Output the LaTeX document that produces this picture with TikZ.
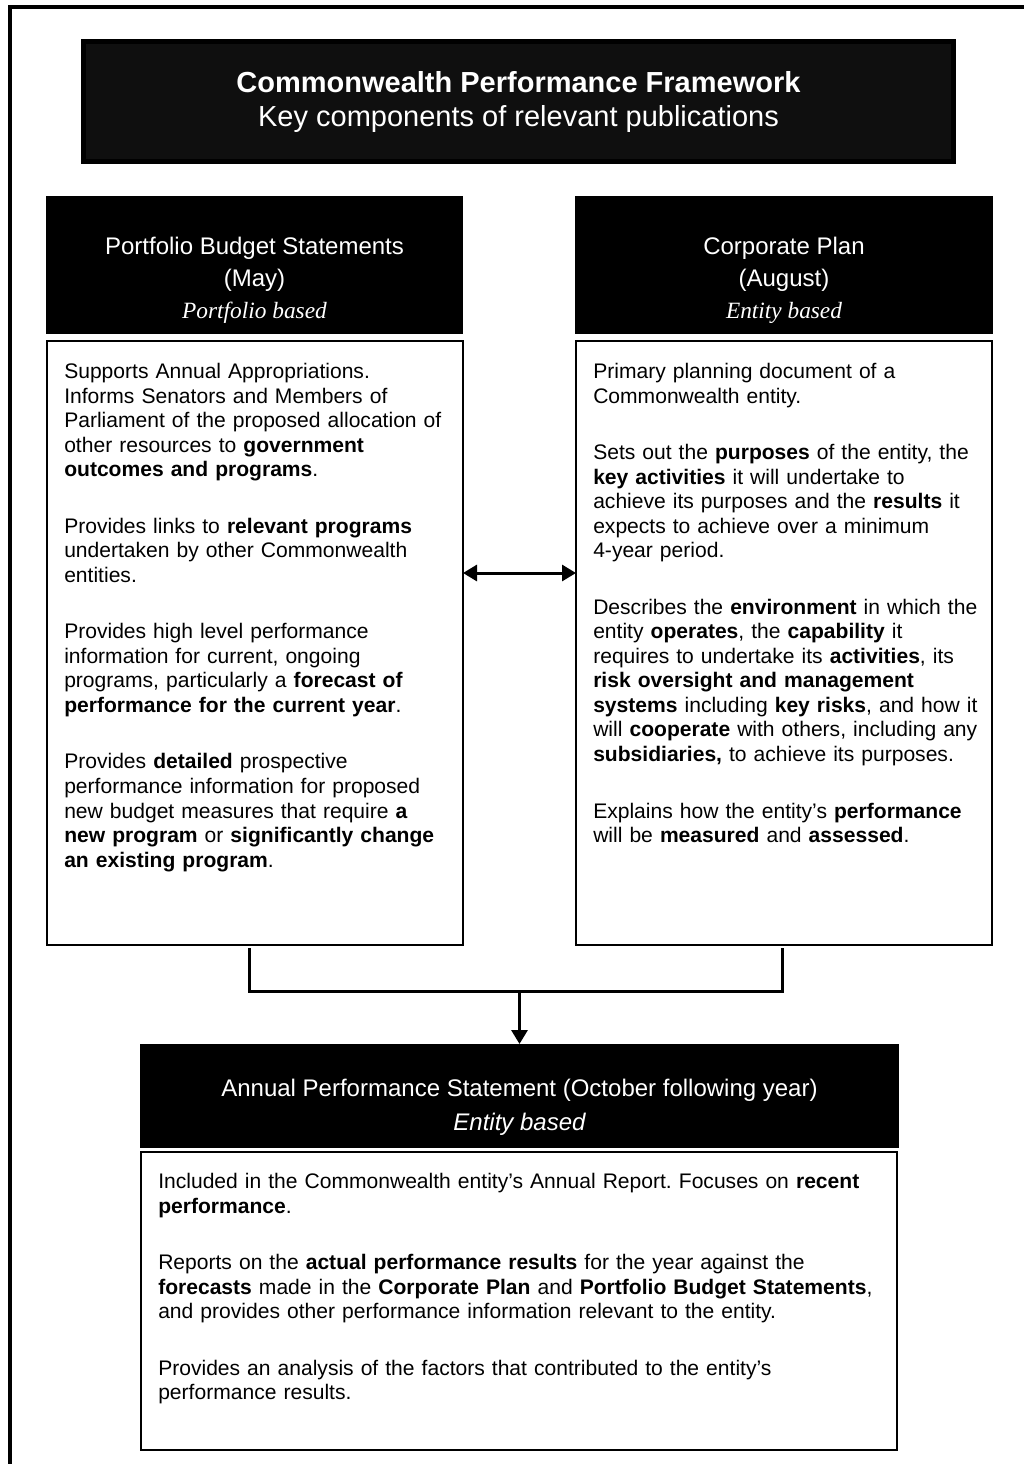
\documentclass[tikz,border=0pt]{standalone}
\usepackage{fontspec}
\setmainfont{Liberation Sans}
\newfontfamily\bookit{Liberation Serif}
\frenchspacing
\usetikzlibrary{arrows.meta,calc}
\tikzset{%
	>={Triangle[width=12pt,length=10.5pt]},
	% Specifications for style of nodes:
	banner/.style = {rectangle, draw=black, line width=3.75pt, fill=black!94,
		text=white, align=center, font=\fontsize{21.75}{25.5}\selectfont},
	head/.style = {rectangle, fill=black, inner sep=0pt, outer sep=0pt},
	headtext/.style = {text=white, align=center, inner sep=0pt, anchor=north,
		font=\fontsize{18}{24}\selectfont},
	panel/.style = {rectangle, draw=black, line width=1pt, fill=white,
		inner sep=0pt, outer sep=0pt},
	paneltext/.style = {align=left, inner sep=0pt, anchor=north west,
		font=\fontsize{15.8}{18.4}\selectfont},
	link/.style = {line width=2.25pt}
}

\begin{document}
\begin{tikzpicture}[x=0.75pt, y=-0.75pt]
	\useasboundingbox (0,0) rectangle (1024,1464);
	\draw[line width=3pt] (9.5,1464) |- (1024,7);
	% Specification of nodes (position, etc.)
	\node (cpf) [banner, minimum width=652.5pt, minimum height=90pt] at (518.5,101.5)
		{\textbf{Commonwealth Performance Framework}\\Key components of relevant publications};

	\node (pbsHead) [head, minimum width=312.75pt, minimum height=103.5pt] at (254.5,265) {};
	\node (cpHead)  [head, minimum width=313.5pt, minimum height=103.5pt] at (784,265) {};
	\node (pbsTitle) [headtext] at (254.5,237)
		{Portfolio Budget Statements\\(May)\\{\bookit\itshape\fontsize{17.5}{24}\selectfont Portfolio based}};
	\node (cpTitle) [headtext] at (784,237)
		{Corporate Plan\\(August)\\{\bookit\itshape\fontsize{17.5}{24}\selectfont Entity based}};

	\node (pbsBody) [panel, minimum width=312pt, minimum height=453pt] at (255,643) {};
	\node (cpBody)  [panel, minimum width=312pt, minimum height=453pt] at (784,643) {};
	\node (pbsText) [paneltext, text width=305pt] at (64,363) {%
		Supports Annual Appropriations.\\
		Informs Senators and Members of\\
		Parliament of the proposed allocation of\\
		other resources to \textbf{government}\\
		\textbf{outcomes and programs}.\\[24pt]
		Provides links to \textbf{relevant programs}\\
		undertaken by other Commonwealth\\
		entities.\\[24pt]
		Provides high level performance\\
		information for current, ongoing\\
		programs, particularly a \textbf{forecast of}\\
		\textbf{performance for the current year}.\\[24pt]
		Provides \textbf{detailed} prospective\\
		performance information for proposed\\
		new budget measures that require \textbf{a}\\
		\textbf{new program} or \textbf{significantly change}\\
		\textbf{an existing program}.};
	\node (cpText) [paneltext, text width=305pt] at (593,363) {%
		Primary planning document of a\\
		Commonwealth entity.\\[24pt]
		Sets out the \textbf{purposes} of the entity, the\\
		\textbf{key activities} it will undertake to\\
		achieve its purposes and the \textbf{results} it\\
		expects to achieve over a minimum\\
		4-year period.\\[24pt]
		Describes the \textbf{environment} in which the\\
		entity \textbf{operates}, the \textbf{capability} it\\
		requires to undertake its \textbf{activities}, its\\
		\textbf{risk oversight and management}\\
		\textbf{systems} including \textbf{key risks}, and how it\\
		will \textbf{cooperate} with others, including any\\
		\textbf{subsidiaries,} to achieve its purposes.\\[24pt]
		Explains how the entity’s \textbf{performance}\\
		will be \textbf{measured} and \textbf{assessed}.};

	\node (apsHead) [head, minimum width=569.25pt, minimum height=78pt] at (519.5,1096) {};
	\node (apsTitle) [headtext] at (519.5,1079)
		{Annual Performance Statement (October following year)\\[1pt]{\itshape Entity based}};
	\node (apsBody) [panel, minimum width=567pt, minimum height=223.5pt] at (519,1301) {};
	\node (apsText) [paneltext, text width=560pt] at (158,1173) {%
		Included in the Commonwealth entity’s Annual Report. Focuses on \textbf{recent}\\
		\textbf{performance}.\\[24pt]
		Reports on the \textbf{actual performance results} for the year against the\\
		\textbf{forecasts} made in the \textbf{Corporate Plan} and \textbf{Portfolio Budget Statements},\\
		and provides other performance information relevant to the entity.\\[24pt]
		Provides an analysis of the factors that contributed to the entity’s\\
		performance results.};

	% Connectors
	\draw[link, <->] ($(pbsBody.east)+(0,-70)$) -- ($(cpBody.west)+(0,-70)$);
	\draw[link] ($(pbsBody.south)+(-6,3)$) |- ($(cpBody.south)+(-2,46)$) -- ($(cpBody.south)+(-2,3)$);
	\draw[link, ->] ($(apsHead.north)+(0,-53)$) -- (apsHead.north);
\end{tikzpicture}
\end{document}
